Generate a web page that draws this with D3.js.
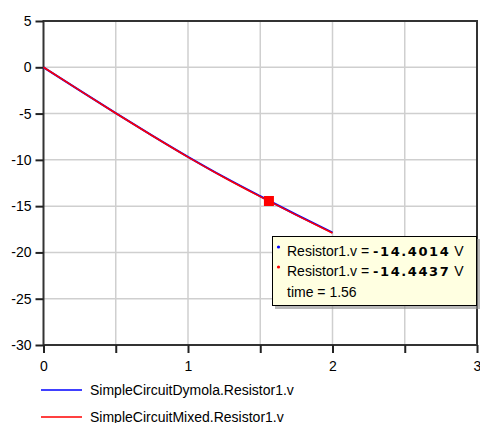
<!DOCTYPE html>
<html>
<head>
<meta charset="utf-8">
<script src="https://cdn.jsdelivr.net/npm/d3@7"></script>
<style>
  body { margin: 0; background: #fff; }
  svg { display: block; }
</style>
</head>
<body>
<script>
// data
var time = [0, 0.25, 0.5, 0.75, 1, 1.25, 1.5, 1.75, 2]
var dymola = [0, -2.49, -4.95, -7.35, -9.67, -11.87, -13.93, -15.93, -17.85]
var mixed = [0, -2.5, -4.97, -7.37, -9.7, -11.9, -13.97, -15.97, -17.9]
var seriesNames = ['SimpleCircuitDymola.Resistor1.v', 'SimpleCircuitMixed.Resistor1.v']
var seriesColors = ['#0000ff', '#ff0000']
var xTicks = [0, 0.5, 1, 1.5, 2, 2.5, 3]
var yTicks = [-30, -25, -20, -15, -10, -5, 0, 5]

// cursor read-out
var cursorTime = 1.56
var cursorValues = [-14.4014, -14.4437]

var w = 480
var h = 423

var svg = d3.select('body')
  .append('svg')
  .attr('width', w)
  .attr('height', h)

var xScale = d3.scaleLinear().domain([0, 3]).range([43.5, 477])
var yScale = d3.scaleLinear().domain([-30, 5]).range([345, 21])

// grid
svg.append('g')
  .selectAll('line')
  .data(xTicks.slice(1, -1))
  .enter()
  .append('line')
  .attr('x1', function (d) { return xScale(d) })
  .attr('x2', function (d) { return xScale(d) })
  .attr('y1', yScale(5))
  .attr('y2', yScale(-30))
  .attr('stroke', '#cfcfcf')
  .attr('stroke-width', 1.5)

svg.append('g')
  .selectAll('line')
  .data(yTicks.slice(1, -1))
  .enter()
  .append('line')
  .attr('x1', xScale(0))
  .attr('x2', xScale(3))
  .attr('y1', function (d) { return yScale(d) })
  .attr('y2', function (d) { return yScale(d) })
  .attr('stroke', '#cfcfcf')
  .attr('stroke-width', 1.5)

// frame
svg.append('rect')
  .attr('x', xScale(0))
  .attr('y', yScale(5))
  .attr('width', xScale(3) - xScale(0))
  .attr('height', yScale(-30) - yScale(5))
  .attr('fill', 'none')
  .attr('stroke', '#333')
  .attr('stroke-width', 2)

// axes
var yAxis = d3.axisLeft(yScale)
  .tickValues(yTicks)
  .tickSize(8)
  .tickPadding(4)
  .tickFormat(function (d) { return String(d) })

var xAxis = d3.axisBottom(xScale)
  .tickValues(xTicks)
  .tickSize(8)
  .tickPadding(8)
  .tickFormat(function (d) { return d % 1 === 0 ? String(d) : '' })

var gy = svg.append('g')
  .attr('transform', 'translate(' + xScale(0) + ',0)')
  .call(yAxis)
var gx = svg.append('g')
  .attr('transform', 'translate(0,' + yScale(-30) + ')')
  .call(xAxis)

;[gx, gy].forEach(function (g) {
  g.select('.domain').remove()
  g.selectAll('line').attr('stroke', '#222').attr('stroke-width', 2)
  g.selectAll('text')
    .attr('font-family', 'Liberation Sans, Arial, sans-serif')
    .attr('font-size', '14px')
    .attr('fill', '#000')
})

// series
var line = d3.line()
  .x(function (d, i) { return xScale(time[i]) })
  .y(function (d) { return yScale(d) })
  .curve(d3.curveMonotoneX)

svg.append('path')
  .datum(dymola)
  .attr('d', line)
  .attr('fill', 'none')
  .attr('stroke', seriesColors[0])
  .attr('stroke-width', 2)

svg.append('path')
  .datum(mixed)
  .attr('d', line)
  .attr('fill', 'none')
  .attr('stroke', seriesColors[1])
  .attr('stroke-width', 1.6)

// cursor marker
svg.append('rect')
  .attr('x', xScale(cursorTime) - 5)
  .attr('y', yScale(cursorValues[1]) - 5)
  .attr('width', 10)
  .attr('height', 10)
  .attr('fill', '#ff0000')

// tooltip
var tip = svg.append('g').attr('transform', 'translate(272,236)')
tip.append('rect')
  .attr('x', 3)
  .attr('y', 3)
  .attr('width', 205)
  .attr('height', 70)
  .attr('fill', '#888')
  .attr('opacity', 0.6)
tip.append('rect')
  .attr('x', 0.5)
  .attr('y', 0.5)
  .attr('width', 204)
  .attr('height', 69)
  .attr('fill', '#ffffe1')
  .attr('stroke', '#000')
  .attr('stroke-width', 1)

cursorValues.forEach(function (v, i) {
  tip.append('circle')
    .attr('cx', 6.5)
    .attr('cy', 11 + i * 20)
    .attr('r', 1.6)
    .attr('fill', seriesColors[i])
  var t = tip.append('text')
    .attr('x', 15)
    .attr('y', 20 + i * 20)
    .attr('font-family', 'Liberation Sans, Arial, sans-serif')
    .attr('font-size', '14px')
    .attr('fill', '#000')
  t.append('tspan').text('Resistor1.v = ')
  t.append('tspan')
    .attr('font-family', 'DejaVu Sans, sans-serif')
    .attr('font-weight', 'bold')
    .attr('font-size', '13px')
    .attr('letter-spacing', '1.6px')
    .text(v.toFixed(4))
  t.append('tspan').text(' V')
})
tip.append('text')
  .attr('x', 15)
  .attr('y', 60.5)
  .attr('font-family', 'Liberation Sans, Arial, sans-serif')
  .attr('font-size', '14px')
  .attr('fill', '#000')
  .text('time = ' + cursorTime)

// legend
var legend = svg.append('g')
  .selectAll('g')
  .data(seriesNames)
  .enter()
  .append('g')
  .attr('transform', function (d, i) { return 'translate(0,' + (390 + i * 27) + ')' })

legend.append('line')
  .attr('x1', 41)
  .attr('x2', 82)
  .attr('stroke', function (d, i) { return seriesColors[i] })
  .attr('stroke-width', 1.5)

legend.append('text')
  .attr('x', 90)
  .attr('y', 5)
  .attr('font-family', 'Liberation Sans, Arial, sans-serif')
  .attr('font-size', '14px')
  .attr('fill', '#000')
  .text(function (d) { return d })
</script>
</body>
</html>
